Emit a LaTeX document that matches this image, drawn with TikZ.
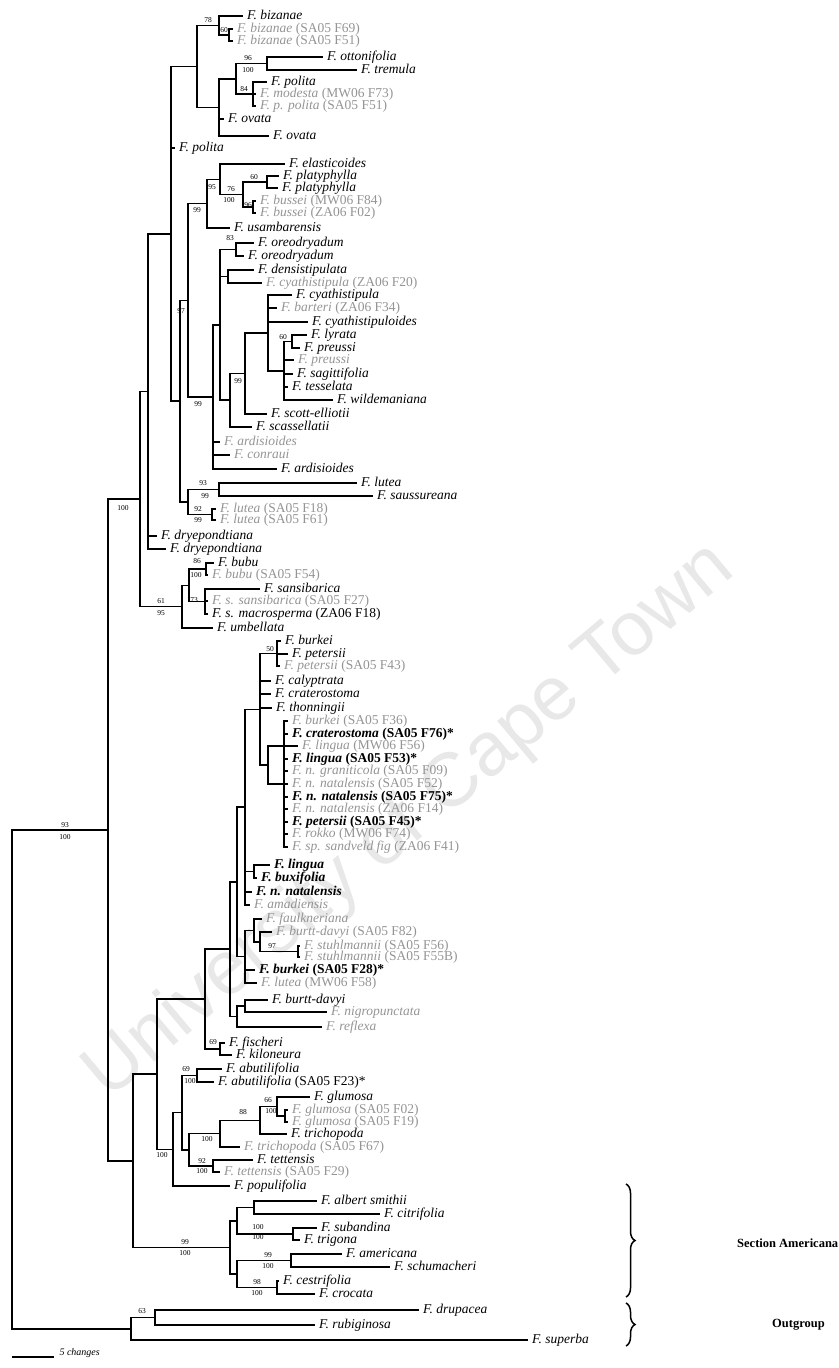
\documentclass[tikz,border=0pt]{standalone}
\usepackage{fontspec}
\setmainfont{Liberation Serif}
\newfontfamily\wmfont{Liberation Sans}
\usetikzlibrary{decorations.pathreplacing}

\newcommand{\ficus}[1]{\textit{F. #1}}
\newcommand{\tipfont}{\fontsize{13.5}{14}\selectfont}
\newcommand{\bsfont}{\fontsize{7.5}{8}\selectfont}

\begin{document}
\begin{tikzpicture}[x=1pt, y=-1pt,
    br/.style={line width=1.5pt},
    tip/.style={anchor=west, inner xsep=4pt, inner ysep=0pt, font=\tipfont, text height=9pt, text depth=3pt},
    gtip/.style={tip, text=black!42},
    bft/.style={font=\tipfont\bfseries},
    bs/.style={font=\bsfont, inner sep=0pt},
    wm/.style={font={\wmfont\fontsize{76}{76}\selectfont}, text=black!9, rotate=40}]
    \useasboundingbox (0,0) rectangle (838,1368);

    % Watermark
    \node[wm] (watermark) at (410,822) {University of Cape Town};

    % Polita group
    \node[tip] (bizanae) at (243,16) {\ficus{bizanae}};
    \node[gtip] (bizF69) at (233,29) {\ficus{bizanae} (SA05 F69)};
    \node[gtip] (bizF51) at (233,41) {\ficus{bizanae} (SA05 F51)};
    \node[tip] (ottonifolia) at (323,57) {\ficus{ottonifolia}};
    \node[tip] (tremula) at (357,70) {\ficus{tremula}};
    \node[tip] (polita1) at (267,82) {\ficus{polita}};
    \node[gtip] (modesta) at (256,94) {\ficus{modesta} (MW06 F73)};
    \node[gtip] (ppolita) at (256,106) {\ficus{p. polita} (SA05 F51)};
    \node[tip] (ovata1) at (224,119) {\ficus{ovata}};
    \node[tip] (ovata2) at (269,136) {\ficus{ovata}};
    \node[tip] (polita2) at (175,148) {\ficus{polita}};

    % Elasticoides group
    \node[tip] (elasticoides) at (285,164) {\ficus{elasticoides}};
    \node[tip] (platy1) at (279,176) {\ficus{platyphylla}};
    \node[tip] (platy2) at (278,188) {\ficus{platyphylla}};
    \node[gtip] (bussei1) at (256,201) {\ficus{bussei} (MW06 F84)};
    \node[gtip] (bussei2) at (256,213) {\ficus{bussei} (ZA06 F02)};
    \node[tip] (usambarensis) at (230,228) {\ficus{usambarensis}};

    % Cyathistipula group
    \node[tip] (oreo1) at (254,243) {\ficus{oreodryadum}};
    \node[tip] (oreo2) at (244,256) {\ficus{oreodryadum}};
    \node[tip] (densistipulata) at (254,270) {\ficus{densistipulata}};
    \node[gtip] (cyathF20) at (262,283) {\ficus{cyathistipula} (ZA06 F20)};
    \node[tip] (cyathistipula) at (292,295) {\ficus{cyathistipula}};
    \node[gtip] (barteri) at (277,308) {\ficus{barteri} (ZA06 F34)};
    \node[tip] (cyathistipuloides) at (308,322) {\ficus{cyathistipuloides}};
    \node[tip] (lyrata) at (307,335) {\ficus{lyrata}};
    \node[tip] (preussi1) at (300,348) {\ficus{preussi}};
    \node[gtip] (preussi2) at (294,360) {\ficus{preussi}};
    \node[tip] (sagittifolia) at (293,374) {\ficus{sagittifolia}};
    \node[tip] (tesselata) at (288,387) {\ficus{tesselata}};
    \node[tip] (wildemaniana) at (333,400) {\ficus{wildemaniana}};
    \node[tip] (scottelliotii) at (267,414) {\ficus{scott-elliotii}};
    \node[tip] (scassellatii) at (252,427) {\ficus{scassellatii}};
    \node[gtip] (ardisioides1) at (220,442) {\ficus{ardisioides}};
    \node[gtip] (conraui) at (230,455) {\ficus{conraui}};
    \node[tip] (ardisioides2) at (277,469) {\ficus{ardisioides}};

    % Lutea group
    \node[tip] (lutea1) at (357,483) {\ficus{lutea}};
    \node[tip] (saussureana) at (373,496) {\ficus{saussureana}};
    \node[gtip] (luteaF18) at (216,509) {\ficus{lutea} (SA05 F18)};
    \node[gtip] (luteaF61) at (216,520) {\ficus{lutea} (SA05 F61)};
    \node[tip] (dryep1) at (157,536) {\ficus{dryepondtiana}};
    \node[tip] (dryep2) at (166,549) {\ficus{dryepondtiana}};

    % Bubu group
    \node[tip] (bubu) at (214,563) {\ficus{bubu}};
    \node[gtip] (bubuF54) at (208,575) {\ficus{bubu} (SA05 F54)};
    \node[tip] (sansibarica) at (260,589) {\ficus{sansibarica}};
    \node[gtip] (ssansibarica) at (208,601) {\ficus{s. sansibarica} (SA05 F27)};
    \node[tip] (macrosperma) at (208,614) {\ficus{s. macrosperma} (ZA06 F18)};
    \node[tip] (umbellata) at (213,628) {\ficus{umbellata}};

    % Thonningii complex
    \node[tip] (burkei1) at (281,641) {\ficus{burkei}};
    \node[tip] (petersii1) at (288,654) {\ficus{petersii}};
    \node[gtip] (petersiiF43) at (280,666) {\ficus{petersii} (SA05 F43)};
    \node[tip] (calyptrata) at (271,681) {\ficus{calyptrata}};
    \node[tip] (craterostoma1) at (271,694) {\ficus{craterostoma}};
    \node[tip] (thonningii) at (272,708) {\ficus{thonningii}};
    \node[gtip] (burkeiF36) at (288,721) {\ficus{burkei} (SA05 F36)};
    \node[tip,bft] (craterF76) at (288,734) {\ficus{craterostoma} (SA05 F76)*};
    \node[gtip] (linguaF56) at (298,746) {\ficus{lingua} (MW06 F56)};
    \node[tip,bft] (linguaF53) at (288,759) {\ficus{lingua} (SA05 F53)*};
    \node[gtip] (graniticola) at (288,771) {\ficus{n. graniticola} (SA05 F09)};
    \node[gtip] (natF52) at (288,784) {\ficus{n. natalensis} (SA05 F52)};
    \node[tip,bft] (natF75) at (288,797) {\ficus{n. natalensis} (SA05 F75)*};
    \node[gtip] (natZA) at (288,809) {\ficus{n. natalensis} (ZA06 F14)};
    \node[tip,bft] (petF45) at (288,822) {\ficus{petersii} (SA05 F45)*};
    \node[gtip] (rokko) at (288,834) {\ficus{rokko} (MW06 F74)};
    \node[gtip] (spfig) at (288,847) {\ficus{sp. sandveld fig} (ZA06 F41)};
    \node[tip,bft] (lingua1) at (270,865) {\ficus{lingua}};
    \node[tip,bft] (buxifolia) at (257,878) {\ficus{buxifolia}};
    \node[tip,bft] (nnatalensis) at (252,892) {\ficus{n. natalensis}};
    \node[gtip] (amadiensis) at (250,905) {\ficus{amadiensis}};
    \node[gtip] (faulkneriana) at (262,919) {\ficus{faulkneriana}};
    \node[gtip] (burttF82) at (272,932) {\ficus{burtt-davyi} (SA05 F82)};
    \node[gtip] (stuhlF56) at (300,946) {\ficus{stuhlmannii} (SA05 F56)};
    \node[gtip] (stuhlF55B) at (300,957) {\ficus{stuhlmannii} (SA05 F55B)};
    \node[tip,bft] (burkeiF28) at (255,970) {\ficus{burkei} (SA05 F28)*};
    \node[gtip] (lorena) at (257,983) {\ficus{lutea} (MW06 F58)};
    \node[tip] (burttdavyi) at (268,1000) {\ficus{burtt-davyi}};
    \node[gtip] (nigropunctata) at (327,1012) {\ficus{nigropunctata}};
    \node[gtip] (reflexa) at (322,1027) {\ficus{reflexa}};
    \node[tip] (fischeri) at (225,1043) {\ficus{fischeri}};
    \node[tip] (kiloneura) at (232,1055) {\ficus{kiloneura}};

    % Glumosa group
    \node[tip] (abutilifolia1) at (222,1069) {\ficus{abutilifolia}};
    \node[tip] (abutF23) at (214,1082) {\ficus{abutilifolia} (SA05 F23)*};
    \node[tip] (glumosa1) at (310,1097) {\ficus{glumosa}};
    \node[gtip] (glumosaF02) at (288,1110) {\ficus{glumosa} (SA05 F02)};
    \node[gtip] (glumosaF19) at (288,1122) {\ficus{glumosa} (SA05 F19)};
    \node[tip] (trichopoda1) at (287,1134) {\ficus{trichopoda}};
    \node[gtip] (trichopodaF67) at (240,1147) {\ficus{trichopoda} (SA05 F67)};
    \node[tip] (tettensis1) at (253,1160) {\ficus{tettensis}};
    \node[gtip] (tettensisF29) at (220,1172) {\ficus{tettensis} (SA05 F29)};
    \node[tip] (populifolia) at (230,1186) {\ficus{populifolia}};

    % Section Americana
    \node[tip] (albertsmithii) at (317,1201) {\ficus{albert smithii}};
    \node[tip] (citrifolia) at (380,1214) {\ficus{citrifolia}};
    \node[tip] (subandina) at (317,1228) {\ficus{subandina}};
    \node[tip] (trigona) at (300,1240) {\ficus{trigona}};
    \node[tip] (americana) at (342,1254) {\ficus{americana}};
    \node[tip] (schumacheri) at (390,1267) {\ficus{schumacheri}};
    \node[tip] (cestrifolia) at (279,1281) {\ficus{cestrifolia}};
    \node[tip] (crocata) at (315,1294) {\ficus{crocata}};

    % Outgroup
    \node[tip] (drupacea) at (419,1310) {\ficus{drupacea}};
    \node[tip] (rubiginosa) at (315,1325) {\ficus{rubiginosa}};
    \node[tip] (superba) at (528,1340) {\ficus{superba}};

    % Internal nodes
    \coordinate (A2) at (229,35);
    \coordinate (A1) at (219,25.5);
    \coordinate (A5) at (267,63.5);
    \coordinate (A6) at (253,94);
    \coordinate (A4) at (236,78.8);
    \coordinate (A3) at (219,107.4);
    \coordinate (A) at (197,66.4);
    \coordinate (PL) at (267,182);
    \coordinate (BS) at (253,207);
    \coordinate (PB) at (243,194.5);
    \coordinate (EPB) at (220,179.3);
    \coordinate (EL) at (207,203.6);
    \coordinate (OR) at (236,249.5);
    \coordinate (DN) at (228,276.5);
    \coordinate (LP) at (292,341.5);
    \coordinate (LPS) at (284,370.8);
    \coordinate (CY) at (268,332.9);
    \coordinate (S2) at (245,373.4);
    \coordinate (V2) at (230,400.2);
    \coordinate (V) at (220,324.9);
    \coordinate (W) at (213,396.9);
    \coordinate (M) at (188,300.3);
    \coordinate (LS) at (219,489.5);
    \coordinate (LG) at (212,514.5);
    \coordinate (LU) at (188,502);
    \coordinate (L) at (180,401.1);
    \coordinate (P) at (171,233.8);
    \coordinate (Q) at (148,391.4);
    \coordinate (BP) at (206,569);
    \coordinate (SN) at (205,601.5);
    \coordinate (BU) at (189,585.3);
    \coordinate (BB) at (182,606.6);
    \coordinate (N100) at (140,499);
    \coordinate (N50) at (277,653.5);
    \coordinate (T) at (284,784);
    \coordinate (X) at (268,765);
    \coordinate (C260) at (260,709.3);
    \coordinate (LB) at (254,871.5);
    \coordinate (C245) at (245,807.1);
    \coordinate (ST2) at (298,951.5);
    \coordinate (BS2) at (260,941.8);
    \coordinate (FN) at (254,930.4);
    \coordinate (K) at (245,956.7);
    \coordinate (D) at (237,881.9);
    \coordinate (BD) at (245,1006);
    \coordinate (BDR) at (237,1016.5);
    \coordinate (E) at (230,949.2);
    \coordinate (FK) at (220,1049);
    \coordinate (F) at (205,999.1);
    \coordinate (AB) at (197,1075.5);
    \coordinate (GP) at (285,1116);
    \coordinate (GG) at (277,1106.5);
    \coordinate (G66) at (260,1120.3);
    \coordinate (G88) at (220,1133.6);
    \coordinate (TT) at (213,1166);
    \coordinate (GT) at (189,1149.8);
    \coordinate (I) at (182,1112.7);
    \coordinate (H) at (173,1149.3);
    \coordinate (G) at (157,1074.2);
    \coordinate (AS) at (254,1207.5);
    \coordinate (STg) at (293,1234);
    \coordinate (AT) at (237,1220.8);
    \coordinate (AMp) at (291,1260.5);
    \coordinate (CC) at (277,1287.5);
    \coordinate (AC) at (237,1274);
    \coordinate (AM) at (230,1247.4);
    \coordinate (LO) at (133,1160.8);
    \coordinate (IN) at (108,829.9);
    \coordinate (DR) at (155,1317.5);
    \coordinate (OG) at (131,1328.8);
    \coordinate (root) at (12,1079.4);

    % Branches
    \foreach \ch in {bizF69,bizF51} \draw[br] (A2) |- (\ch);
    \foreach \ch in {bizanae,A2} \draw[br] (A1) |- (\ch);
    \foreach \ch in {ottonifolia,tremula} \draw[br] (A5) |- (\ch);
    \foreach \ch in {polita1,modesta,ppolita} \draw[br] (A6) |- (\ch);
    \foreach \ch in {A5,A6} \draw[br] (A4) |- (\ch);
    \foreach \ch in {A4,ovata1,ovata2} \draw[br] (A3) |- (\ch);
    \foreach \ch in {A1,A3} \draw[br] (A) |- (\ch);
    \foreach \ch in {platy1,platy2} \draw[br] (PL) |- (\ch);
    \foreach \ch in {bussei1,bussei2} \draw[br] (BS) |- (\ch);
    \foreach \ch in {PL,BS} \draw[br] (PB) |- (\ch);
    \foreach \ch in {elasticoides,PB} \draw[br] (EPB) |- (\ch);
    \foreach \ch in {EPB,usambarensis} \draw[br] (EL) |- (\ch);
    \foreach \ch in {oreo1,oreo2} \draw[br] (OR) |- (\ch);
    \foreach \ch in {densistipulata,cyathF20} \draw[br] (DN) |- (\ch);
    \foreach \ch in {lyrata,preussi1} \draw[br] (LP) |- (\ch);
    \foreach \ch in {LP,preussi2,sagittifolia,tesselata,wildemaniana} \draw[br] (LPS) |- (\ch);
    \foreach \ch in {cyathistipula,barteri,cyathistipuloides,LPS} \draw[br] (CY) |- (\ch);
    \foreach \ch in {CY,scottelliotii} \draw[br] (S2) |- (\ch);
    \foreach \ch in {S2,scassellatii} \draw[br] (V2) |- (\ch);
    \foreach \ch in {OR,DN,V2} \draw[br] (V) |- (\ch);
    \foreach \ch in {V,ardisioides1,conraui,ardisioides2} \draw[br] (W) |- (\ch);
    \foreach \ch in {EL,W} \draw[br] (M) |- (\ch);
    \foreach \ch in {lutea1,saussureana} \draw[br] (LS) |- (\ch);
    \foreach \ch in {luteaF18,luteaF61} \draw[br] (LG) |- (\ch);
    \foreach \ch in {LS,LG} \draw[br] (LU) |- (\ch);
    \foreach \ch in {M,LU} \draw[br] (L) |- (\ch);
    \foreach \ch in {A,polita2,L} \draw[br] (P) |- (\ch);
    \foreach \ch in {P,dryep1,dryep2} \draw[br] (Q) |- (\ch);
    \foreach \ch in {bubu,bubuF54} \draw[br] (BP) |- (\ch);
    \foreach \ch in {sansibarica,ssansibarica,macrosperma} \draw[br] (SN) |- (\ch);
    \foreach \ch in {BP,SN} \draw[br] (BU) |- (\ch);
    \foreach \ch in {BU,umbellata} \draw[br] (BB) |- (\ch);
    \foreach \ch in {Q,BB} \draw[br] (N100) |- (\ch);
    \foreach \ch in {burkei1,petersii1,petersiiF43} \draw[br] (N50) |- (\ch);
    \foreach \ch in {burkeiF36,craterF76,linguaF53,graniticola,natF52,natF75,natZA,petF45,rokko,spfig} \draw[br] (T) |- (\ch);
    \foreach \ch in {linguaF56,T} \draw[br] (X) |- (\ch);
    \foreach \ch in {N50,calyptrata,craterostoma1,thonningii,X} \draw[br] (C260) |- (\ch);
    \foreach \ch in {lingua1,buxifolia} \draw[br] (LB) |- (\ch);
    \foreach \ch in {C260,LB,nnatalensis,amadiensis} \draw[br] (C245) |- (\ch);
    \foreach \ch in {stuhlF56,stuhlF55B} \draw[br] (ST2) |- (\ch);
    \foreach \ch in {burttF82,ST2} \draw[br] (BS2) |- (\ch);
    \foreach \ch in {faulkneriana,BS2} \draw[br] (FN) |- (\ch);
    \foreach \ch in {FN,burkeiF28,lorena} \draw[br] (K) |- (\ch);
    \foreach \ch in {C245,K} \draw[br] (D) |- (\ch);
    \foreach \ch in {burttdavyi,nigropunctata} \draw[br] (BD) |- (\ch);
    \foreach \ch in {BD,reflexa} \draw[br] (BDR) |- (\ch);
    \foreach \ch in {D,BDR} \draw[br] (E) |- (\ch);
    \foreach \ch in {fischeri,kiloneura} \draw[br] (FK) |- (\ch);
    \foreach \ch in {E,FK} \draw[br] (F) |- (\ch);
    \foreach \ch in {abutilifolia1,abutF23} \draw[br] (AB) |- (\ch);
    \foreach \ch in {glumosaF02,glumosaF19} \draw[br] (GP) |- (\ch);
    \foreach \ch in {glumosa1,GP} \draw[br] (GG) |- (\ch);
    \foreach \ch in {GG,trichopoda1} \draw[br] (G66) |- (\ch);
    \foreach \ch in {G66,trichopodaF67} \draw[br] (G88) |- (\ch);
    \foreach \ch in {tettensis1,tettensisF29} \draw[br] (TT) |- (\ch);
    \foreach \ch in {G88,TT} \draw[br] (GT) |- (\ch);
    \foreach \ch in {AB,GT} \draw[br] (I) |- (\ch);
    \foreach \ch in {I,populifolia} \draw[br] (H) |- (\ch);
    \foreach \ch in {F,H} \draw[br] (G) |- (\ch);
    \foreach \ch in {albertsmithii,citrifolia} \draw[br] (AS) |- (\ch);
    \foreach \ch in {subandina,trigona} \draw[br] (STg) |- (\ch);
    \foreach \ch in {AS,STg} \draw[br] (AT) |- (\ch);
    \foreach \ch in {americana,schumacheri} \draw[br] (AMp) |- (\ch);
    \foreach \ch in {cestrifolia,crocata} \draw[br] (CC) |- (\ch);
    \foreach \ch in {AMp,CC} \draw[br] (AC) |- (\ch);
    \foreach \ch in {AT,AC} \draw[br] (AM) |- (\ch);
    \foreach \ch in {G,AM} \draw[br] (LO) |- (\ch);
    \foreach \ch in {N100,LO} \draw[br] (IN) |- (\ch);
    \foreach \ch in {drupacea,rubiginosa} \draw[br] (DR) |- (\ch);
    \foreach \ch in {DR,superba} \draw[br] (OG) |- (\ch);
    \foreach \ch in {IN,OG} \draw[br] (root) |- (\ch);

    % Support values
    \node[bs] (bs78) at (208,20) {78};
    \node[bs] (bs60a) at (224,30) {60};
    \node[bs] (bs96) at (248,58) {96};
    \node[bs] (bs100a) at (248,70) {100};
    \node[bs] (bs84) at (244,89) {84};
    \node[bs] (bs95a) at (212,187) {95};
    \node[bs] (bs99a) at (197,210) {99};
    \node[bs] (bs76) at (231,189) {76};
    \node[bs] (bs100b) at (229,200) {100};
    \node[bs] (bs60b) at (254,177) {60};
    \node[bs] (bs96b) at (248,205) {96};
    \node[bs] (bs83) at (230,238) {83};
    \node[bs] (bs97a) at (181,311) {97};
    \node[bs] (bs99b) at (198,404) {99};
    \node[bs] (bs99c) at (238,381) {99};
    \node[bs] (bs60c) at (283,337) {60};
    \node[bs] (bs93) at (203,483) {93};
    \node[bs] (bs99d) at (205,496) {99};
    \node[bs] (bs92a) at (198,509) {92};
    \node[bs] (bs99e) at (198,520) {99};
    \node[bs] (bs100c) at (123,508) {100};
    \node[bs] (bs86) at (197,561) {86};
    \node[bs] (bs100d) at (196,575) {100};
    \node[bs] (bs73) at (194,600) {73};
    \node[bs] (bs61) at (161,601) {61};
    \node[bs] (bs95b) at (161,613) {95};
    \node[bs] (bs50) at (270,649) {50};
    \node[bs] (bs97b) at (272,946) {97};
    \node[bs] (bs69a) at (213,1042) {69};
    \node[bs] (bs69b) at (186,1069) {69};
    \node[bs] (bs100e) at (190,1081) {100};
    \node[bs] (bs66) at (268,1100) {66};
    \node[bs] (bs100f) at (271,1111) {100};
    \node[bs] (bs88) at (243,1112) {88};
    \node[bs] (bs100g) at (207,1139) {100};
    \node[bs] (bs92b) at (202,1161) {92};
    \node[bs] (bs100h) at (202,1171) {100};
    \node[bs] (bs100i) at (162,1155) {100};
    \node[bs] (bs99f) at (185,1242) {99};
    \node[bs] (bs100j) at (185,1253) {100};
    \node[bs] (bs100k) at (258,1227) {100};
    \node[bs] (bs100l) at (258,1237) {100};
    \node[bs] (bs99g) at (268,1255) {99};
    \node[bs] (bs100m) at (268,1266) {100};
    \node[bs] (bs98) at (257,1282) {98};
    \node[bs] (bs100n) at (257,1293) {100};
    \node[bs] (bs63) at (142,1311) {63};
    \node[bs] (bs93r) at (65,825) {93};
    \node[bs] (bs100r) at (65,837) {100};

    % Brackets and group names
    \coordinate (amTop) at (626,1184);
    \coordinate (amBot) at (626,1297);
    \coordinate (ogTop) at (626,1303);
    \coordinate (ogBot) at (626,1346);
    \draw[br, decorate, decoration={brace, amplitude=9pt}] (amTop) -- (amBot);
    \draw[br, decorate, decoration={brace, amplitude=9pt}] (ogTop) -- (ogBot);
    \node[anchor=west, inner sep=0pt, font=\fontsize{12.5}{13}\selectfont\bfseries] (secam) at (737,1243) {Section Americana};
    \node[anchor=west, inner sep=0pt, font=\fontsize{12.5}{13}\selectfont\bfseries] (outgroup) at (772,1325) {Outgroup};

    % Scale bar
    \coordinate (sbL) at (12,1357);
    \coordinate (sbR) at (54,1357);
    \draw[br] (sbL) -- (sbR);
    \node[anchor=west, font=\fontsize{10}{10}\selectfont\itshape] (sbtext) at (56,1353) {5 changes};
\end{tikzpicture}
\end{document}
